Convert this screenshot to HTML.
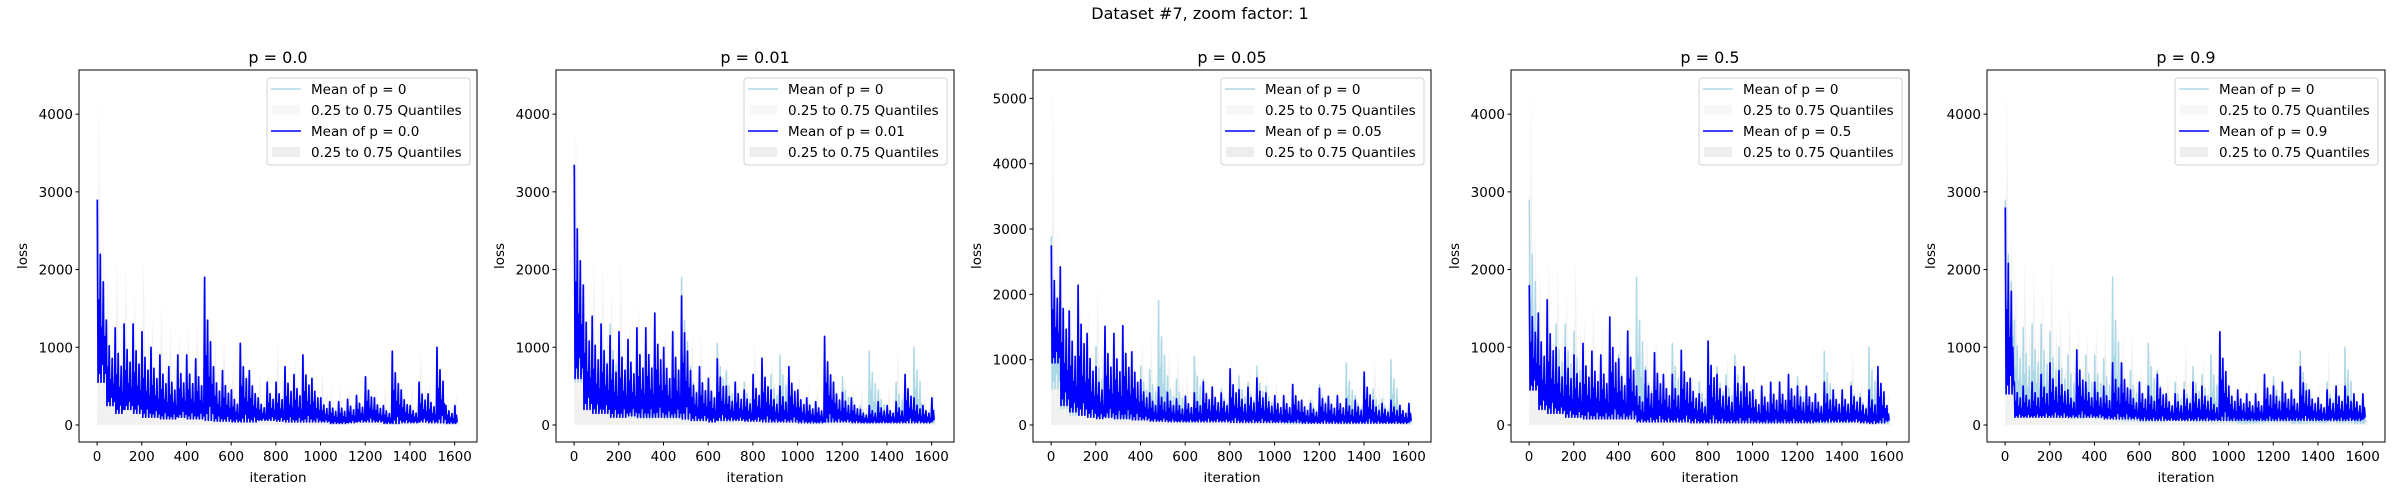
<!DOCTYPE html>
<html><head><meta charset="utf-8"><style>
html,body{margin:0;padding:0;background:#fff;}
svg{display:block;font-family:"DejaVu Sans","Liberation Sans",sans-serif;}
</style></head><body>
<svg id="fig" width="2400" height="500" viewBox="0 0 2400 500" xmlns="http://www.w3.org/2000/svg">
<rect width="2400" height="500" fill="#fff"/>
<text x="1200" y="19" text-anchor="middle" font-size="16">Dataset #7, zoom factor: 1</text>
</svg>
<script>
const panelTitles = ["p = 0.0","p = 0.01","p = 0.05","p = 0.5","p = 0.9"];
const pLabels = ["0.0","0.01","0.05","0.5","0.9"];
const binStarts = [0,40,80,120,160,200,240,280,320,360,400,440,480,520,560,600,640,680,720,760,800,840,880,920,960,1000,1040,1080,1120,1160,1200,1240,1280,1320,1360,1400,1440,1480,1520,1560,1600];
const baseHi = [2900,1350,1250,1300,1300,1200,1000,900,750,900,900,850,1900,750,700,450,1050,700,350,550,550,750,650,900,600,350,300,300,330,380,620,350,250,950,450,250,550,400,1000,250,250];
const baseLo = [550,250,150,200,150,100,100,80,80,100,80,80,60,50,50,40,40,40,60,60,50,40,40,40,40,40,20,20,30,40,40,40,20,20,30,30,40,30,30,20,20];
const bandHi = [4350,2000,2200,2100,1800,2150,1400,1600,1300,1200,1300,1400,1400,1200,1200,800,1100,800,700,700,1100,700,900,900,800,700,500,500,500,500,650,500,500,600,550,500,1000,600,700,400,400];
const bandPeak = [4350,4100,5300,4400,4400];
const p001Hi = [3350,1800,1400,1300,1150,1200,1100,1250,1250,1440,1000,1200,1660,700,750,600,850,500,550,450,650,860,450,500,750,450,350,300,1140,550,420,350,200,250,300,250,300,650,350,250,350];
const p001Lo = [600,200,150,150,100,100,120,100,100,100,100,100,80,60,60,40,60,60,60,50,50,40,40,40,40,30,30,30,40,40,40,30,30,30,30,30,30,30,30,30,50];
const p005Hi = [2750,2420,1745,2140,1400,890,1510,1400,1520,1120,690,490,580,500,400,440,490,660,580,490,860,540,580,720,490,450,450,620,380,330,560,440,450,400,380,810,380,330,380,300,330];
const p005Lo = [950,300,200,150,120,100,120,100,100,80,80,60,60,50,50,50,50,50,50,50,40,40,40,40,40,40,40,40,30,30,30,30,30,30,30,30,30,30,30,30,50];
const p05Hi = [1800,1440,1610,1000,1000,900,1050,950,900,1390,850,1210,500,700,930,650,650,960,600,400,1080,650,500,750,750,450,500,550,550,650,500,500,400,550,450,450,500,350,450,750,250];
const p05Lo = [450,200,150,150,100,100,80,80,80,80,80,80,40,40,40,40,40,40,30,30,30,30,30,30,30,30,30,30,30,30,30,30,40,40,40,40,40,30,20,30,50];
const p09Hi = [2800,550,500,550,650,800,700,450,965,550,550,500,800,800,450,550,500,650,400,400,450,550,500,350,1200,500,450,400,400,650,500,550,450,750,450,350,450,500,500,400,400];
const p09Lo = [400,100,100,100,100,100,100,100,100,100,100,80,80,80,80,60,60,60,60,60,60,60,60,60,60,60,60,60,60,60,60,60,60,60,60,60,60,60,60,60,80];
const panelHi = [baseHi,p001Hi,p005Hi,p05Hi,p09Hi];
const panelLo = [baseLo,p001Lo,p005Lo,p05Lo,p09Lo];
const yMaxTick = [4000,4000,5000,4000,4000];
const yLimMin = [-219,-219,-260,-219,-219];
const yLimMax = [4568,4568,5434,4568,4568];
const xTicks = [0,200,400,600,800,1000,1200,1400,1600];

const NS="http://www.w3.org/2000/svg";
const svg=document.getElementById('fig');
function mk(tag,attrs,parent){const e=document.createElementNS(NS,tag);for(const k in attrs)e.setAttribute(k,attrs[k]);(parent||svg).appendChild(e);return e;}
const lefts=[79,556,1033,1511,1987];
const W=398, TOP=70, BOT=442;
const XMIN=-81, XMAX=1700;
const FS=13.5;
// shape of the noisy trace inside each bin (fraction of hi-lo range)
const wiggle=[1,0,0.45,0.05,0.7,0,0.3,0.1,0.55,0,0.25,0.05];

for(let p=0;p<5;p++){
  const L=lefts[p];
  const g=mk('g',{});
  
  
  const xs=v=>L+(v-XMIN)/(XMAX-XMIN)*W;
  const ys=v=>BOT-(v-yLimMin[p])/(yLimMax[p]-yLimMin[p])*(BOT-TOP);
  const clip=mk('clipPath',{id:'c'+p},g);
  mk('rect',{x:L,y:TOP,width:W,height:BOT-TOP},clip);
  const plot=mk('g',{'clip-path':'url(#c'+p+')'},g);
  let pts=[];
  binStarts.forEach((b,i)=>{const hi=(i===0?bandPeak[p]:bandHi[i]);pts.push([xs(Math.min(b+8,1619)),ys(hi)]);pts.push([xs(Math.min(b+20,1619)),ys(baseLo[i]*0.3)]);pts.push([xs(Math.min(b+30,1619)),ys(hi*0.6)]);pts.push([xs(Math.min(b+38,1619)),ys(baseLo[i]*0.3)]);});
  let d='M'+xs(0)+','+ys(0)+' '+pts.map(q=>'L'+q[0].toFixed(1)+','+q[1].toFixed(1)).join(' ')+' L'+xs(1619)+','+ys(0)+' Z';
  const band=mk('path',{d:d,fill:'#ececec','fill-opacity':'0.75',stroke:'none'},plot);
  
  
  const line=(hiA,loA,color,name,sw)=>{
    let q=[];
    binStarts.forEach((b,i)=>{
      const n=(b===1600)?4:wiggle.length;
      for(let k=0;k<n;k++){
        const x=Math.min(b+k*40/wiggle.length+1,1619);
        q.push([xs(x),ys(loA[i]+(hiA[i]-loA[i])*wiggle[k])]);
      }
    });
    const el=mk('path',{d:'M'+q.map(r=>r[0].toFixed(1)+','+r[1].toFixed(1)).join(' L'),fill:'none',stroke:color,'stroke-width':sw,'stroke-linejoin':'round'},plot);
    
    
  };
  line(baseHi,baseLo,'#add8e6','mean-p0-line',1.5);
  line(panelHi[p],panelLo[p],'#0000ff','mean-p-line',1.7);
  const fr=mk('rect',{x:L,y:TOP,width:W,height:BOT-TOP,fill:'none',stroke:'#000','stroke-width':1},g);
  
  
  for(let v=0;v<=yMaxTick[p];v+=1000){
    const y=ys(v);
    mk('line',{x1:L-3.5,x2:L,y1:y,y2:y,stroke:'#000'},g);
    const t=mk('text',{x:L-6,y:y+5,'text-anchor':'end','font-size':FS},g);
    t.textContent=v;
    
    
  }
  xTicks.forEach(v=>{
    const x=xs(v);
    mk('line',{x1:x,x2:x,y1:BOT,y2:BOT+3.5,stroke:'#000'},g);
    const t=mk('text',{x:x,y:BOT+19,'text-anchor':'middle','font-size':FS},g);
    t.textContent=v;
    
    
  });
  const xl=mk('text',{x:L+W/2,y:482,'text-anchor':'middle','font-size':FS},g);
  xl.textContent='iteration';
  
  
  const yl=mk('text',{x:0,y:0,'text-anchor':'middle','font-size':FS,transform:'translate('+(L-52)+',256) rotate(-90)'},g);
  yl.textContent='loss';
  
  
  const tt=mk('text',{x:L+W/2,y:63,'text-anchor':'middle','font-size':16},g);
  tt.textContent=panelTitles[p];
  
  
  const lg=mk('g',{},g);
  
  
  const lx=L+W-210, ly=TOP+8;
  mk('rect',{x:lx,y:ly,width:203,height:87,rx:3,fill:'#fff','fill-opacity':0.8,stroke:'#d0d0d0'},lg);
  const labels=['Mean of p = 0','0.25 to 0.75 Quantiles','Mean of p = '+pLabels[p],'0.25 to 0.75 Quantiles'];
  labels.forEach((s,i)=>{
    const cy=ly+11+i*21;
    if(i===0) mk('line',{x1:lx+4,x2:lx+34,y1:cy,y2:cy,stroke:'#add8e6','stroke-width':1.5},lg);
    if(i===2) mk('line',{x1:lx+4,x2:lx+34,y1:cy,y2:cy,stroke:'#0000ff','stroke-width':1.5},lg);
    if(i===1) mk('rect',{x:lx+5,y:cy-5,width:28,height:10,fill:'#f7f7f7'},lg);
    if(i===3) mk('rect',{x:lx+5,y:cy-5,width:28,height:10,fill:'#eeeeee'},lg);
    const t=mk('text',{x:lx+44,y:cy+5,'font-size':FS},lg);
    t.textContent=s;
    
    
  });
}
</script>
</body></html>
